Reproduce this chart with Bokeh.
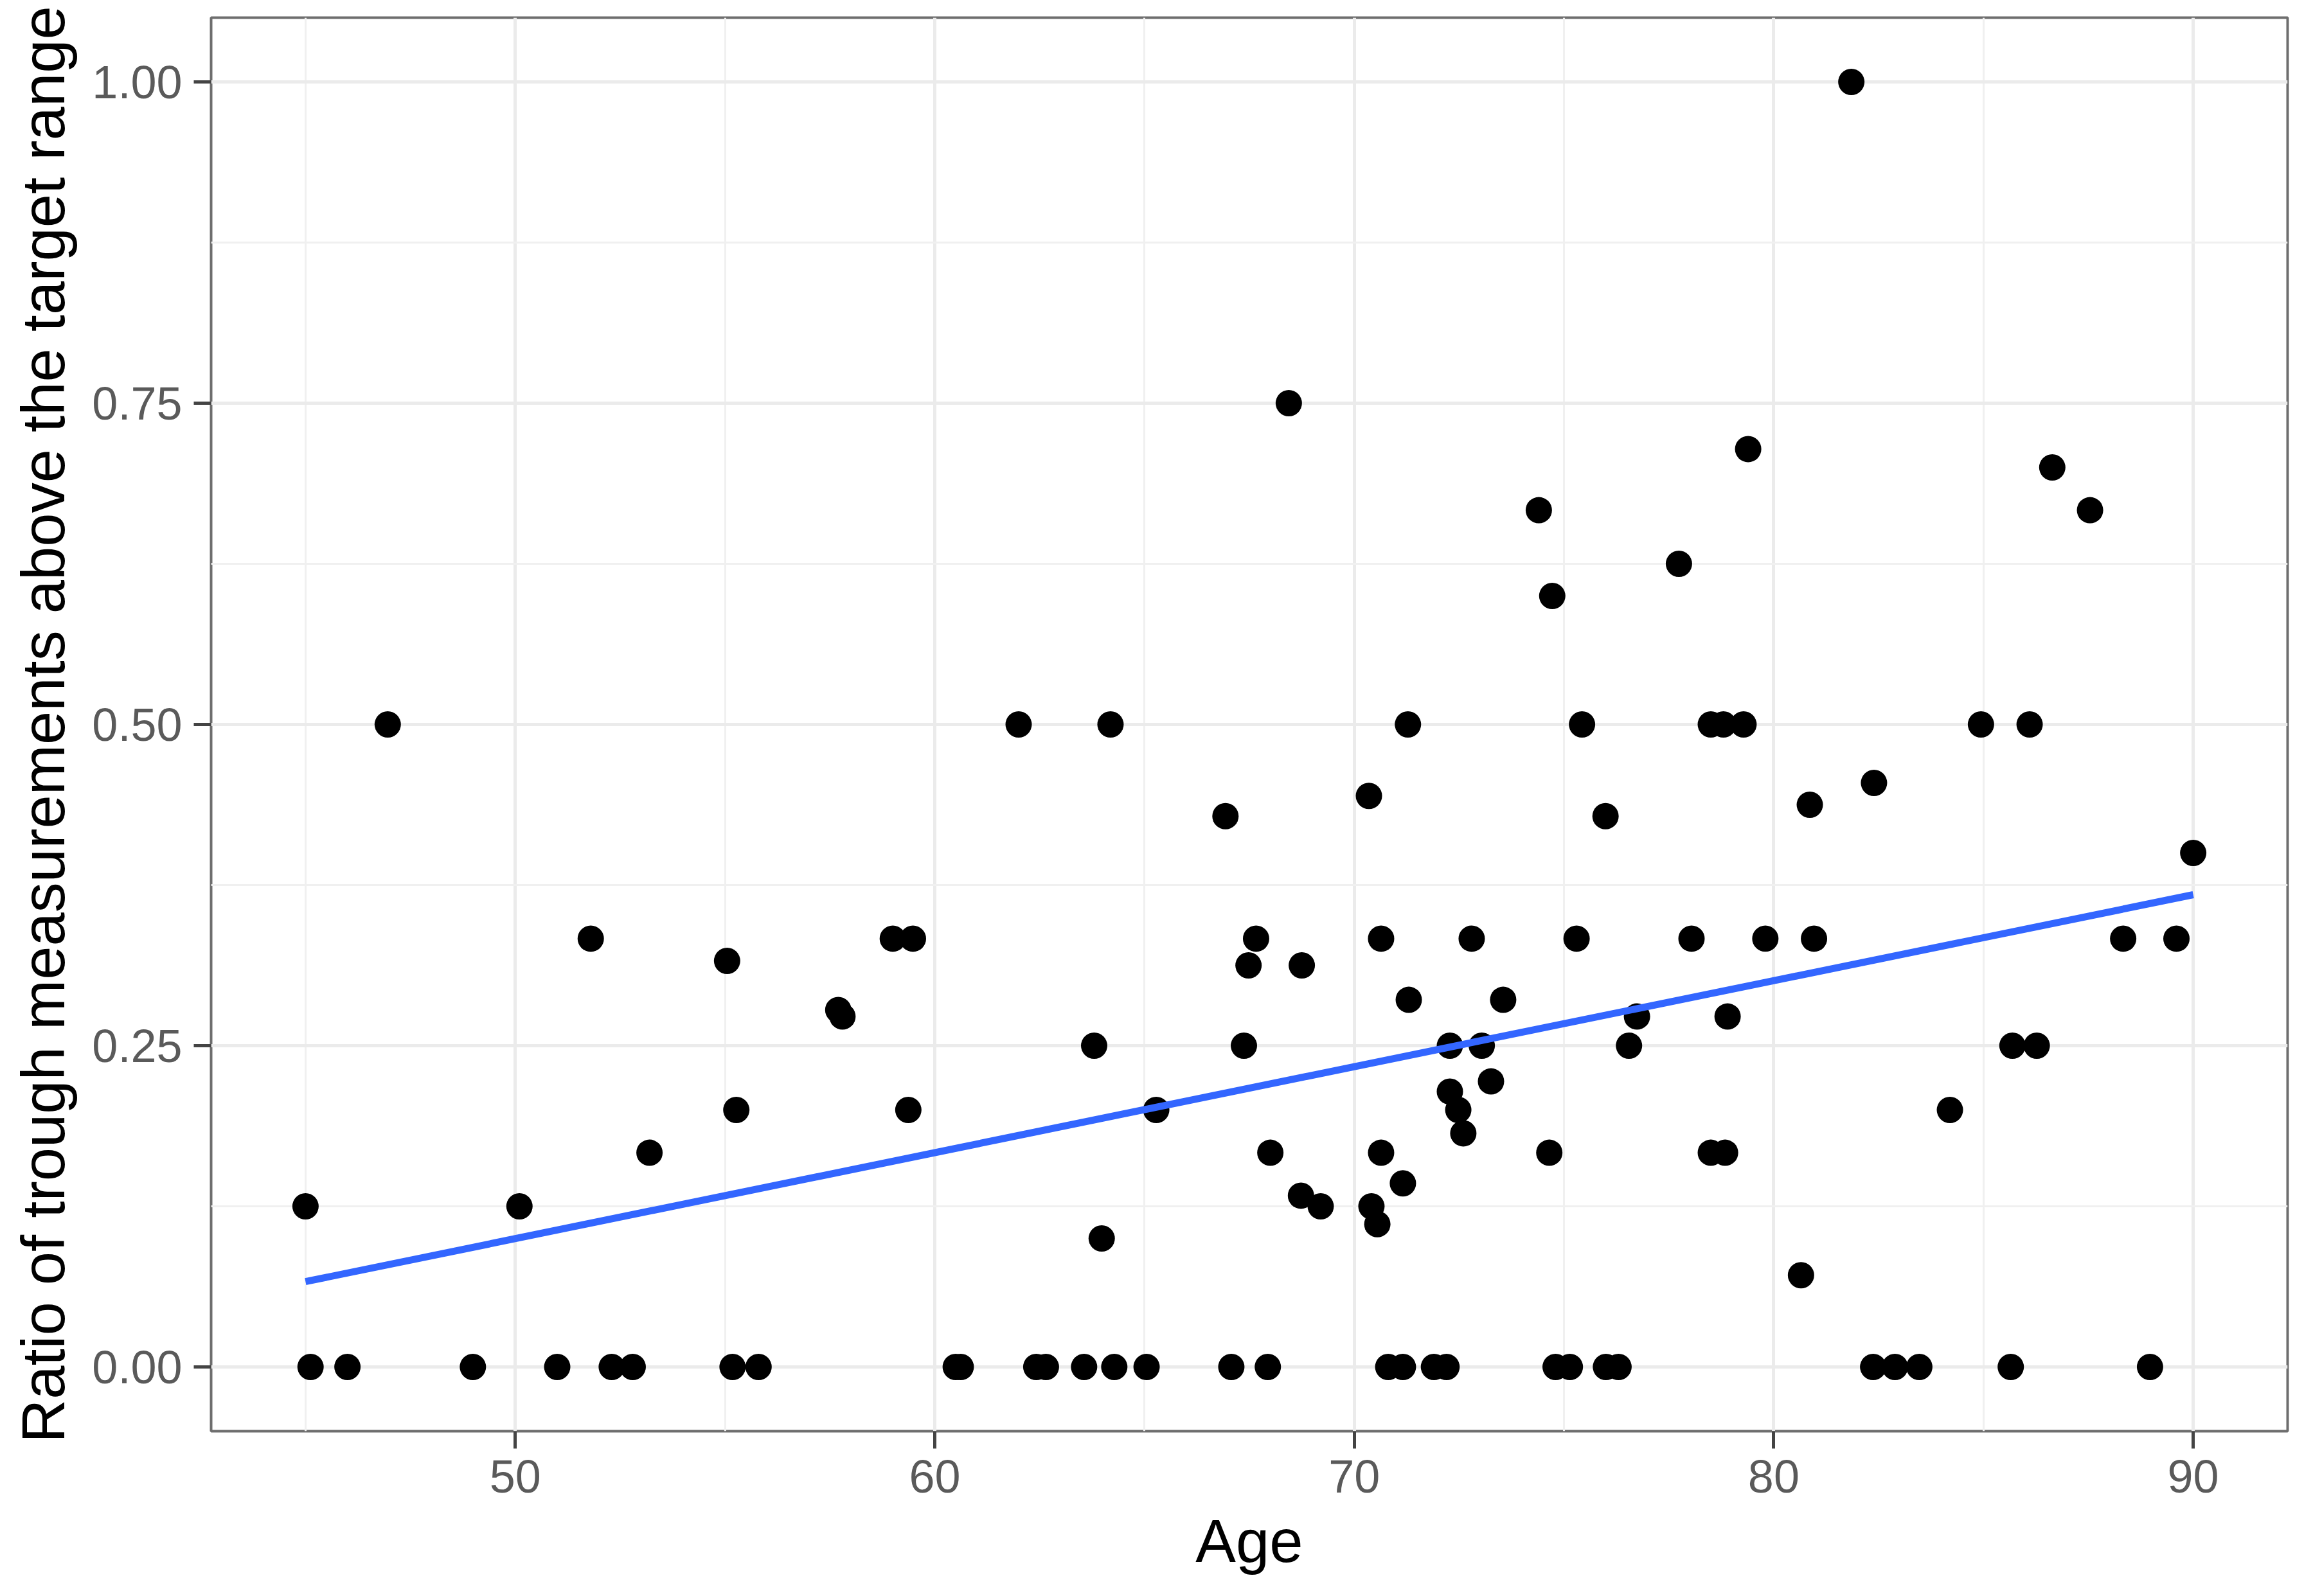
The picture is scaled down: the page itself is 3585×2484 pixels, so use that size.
from bokeh.plotting import figure
from bokeh.models import Range1d, FixedTicker, NumeralTickFormatter
from bokeh.embed import file_html
from bokeh.resources import INLINE

# Patient age and ratio of trough measurements above the target range
age = [45.0, 45.12, 46.0, 46.96, 48.99, 50.1, 51.0, 51.8, 52.3, 52.8,
       53.2, 55.05, 55.18, 55.27, 55.8, 57.7, 57.8, 59.0, 59.37, 59.48,
       60.5, 60.62, 62.0, 62.42, 62.65, 63.56, 63.8, 63.98, 64.19, 64.28,
       65.05, 65.28, 66.93, 67.07, 67.37, 67.48, 67.66, 67.94, 68.0, 68.44,
       68.73, 68.75, 69.2, 70.35, 70.41, 70.55, 70.64, 70.64, 70.81, 71.16,
       71.16, 71.28, 71.3, 71.9, 72.2, 72.28, 72.28, 72.48, 72.6, 72.8,
       73.04, 73.26, 73.55, 74.4, 74.65, 74.72, 74.8, 75.14, 75.3, 75.43,
       75.99, 76.0, 76.3, 76.55, 76.74, 77.74, 78.04, 78.5, 78.84, 78.5,
       78.8, 78.9, 79.28, 79.39, 79.8, 80.65, 80.86, 80.96, 81.85, 82.37,
       82.39, 82.89, 83.47, 84.2, 84.94, 85.65, 85.69, 86.1, 86.27, 86.64,
       87.54, 88.33, 88.97, 89.6, 90.0]
ratio = [0.125, 0.0, 0.0, 0.5, 0.0, 0.125, 0.0, 0.3333, 0.0, 0.0,
         0.1667, 0.316, 0.0, 0.2, 0.0, 0.2778, 0.2727, 0.3333, 0.2, 0.3333,
         0.0, 0.0, 0.5, 0.0, 0.0, 0.0, 0.25, 0.1, 0.5, 0.0,
         0.0, 0.2, 0.4286, 0.0, 0.25, 0.3125, 0.3333, 0.0, 0.1667, 0.75,
         0.1333, 0.3125, 0.125, 0.4444, 0.125, 0.1111, 0.3333, 0.1667, 0.0, 0.0,
         0.1429, 0.5, 0.2857, 0.0, 0.0, 0.25, 0.2143, 0.2, 0.1818, 0.3333,
         0.25, 0.2222, 0.2857, 0.6667, 0.1667, 0.6, 0.0, 0.0, 0.3333, 0.5,
         0.4286, 0.0, 0.0, 0.25, 0.2727, 0.625, 0.3333, 0.1667, 0.1667, 0.5,
         0.5, 0.2727, 0.5, 0.7143, 0.3333, 0.0714, 0.4375, 0.3333, 1.0, 0.0,
         0.4545, 0.0, 0.0, 0.2, 0.5, 0.0, 0.25, 0.5, 0.25, 0.7,
         0.6667, 0.3333, 0.0, 0.3333, 0.4]

# Linear trend
trend_age = [45.0, 90.0]
trend_ratio = [0.0664, 0.3675]

x_ticks = [50, 60, 70, 80, 90]
x_minor = [45, 55, 65, 75, 85]
y_ticks = [0.0, 0.25, 0.5, 0.75, 1.0]
y_minor = [0.125, 0.375, 0.625, 0.875]

FONT = "Liberation Sans"

p = figure(width=3569, height=2468, output_backend="svg", toolbar_location=None,
           x_range=Range1d(42.75, 92.25), y_range=Range1d(-0.05, 1.05),
           min_border_left=328, min_border_right=10,
           min_border_top=27, min_border_bottom=241)

p.background_fill_color = "white"
p.border_fill_color = "white"
p.outline_line_color = "#6e6e6e"
p.outline_line_width = 4

p.xaxis.ticker = FixedTicker(ticks=x_ticks, minor_ticks=x_minor)
p.yaxis.ticker = FixedTicker(ticks=y_ticks, minor_ticks=y_minor)
p.yaxis.formatter = NumeralTickFormatter(format="0.00")

for ax in (p.xaxis, p.yaxis):
    ax.axis_line_color = None
    ax.major_tick_line_color = "#444444"
    ax.major_tick_line_width = 5
    ax.major_tick_out = 27
    ax.major_tick_in = 0
    ax.minor_tick_line_color = None
    ax.major_label_text_font = FONT
    ax.major_label_text_font_size = "72px"
    ax.major_label_text_color = "#5a5a5a"
    ax.major_label_standoff = 18
    ax.axis_label_text_font = FONT
    ax.axis_label_text_font_size = "94px"
    ax.axis_label_text_font_style = "normal"
    ax.axis_label_text_color = "black"
    ax.axis_label_standoff = 20

p.xaxis.axis_label = "Age"
p.yaxis.axis_label = "Ratio of trough measurements above the target range"

for g in (p.xgrid, p.ygrid):
    g.grid_line_color = "#ebebeb"
    g.grid_line_width = 5
    g.minor_grid_line_color = "#f0f0f0"
    g.minor_grid_line_width = 3

p.scatter(age, ratio, size=41, fill_color="black", line_color=None)
p.line(trend_age, trend_ratio, line_color="#3366FF", line_width=11)

open("out.html", "w").write(file_html(p, INLINE))
